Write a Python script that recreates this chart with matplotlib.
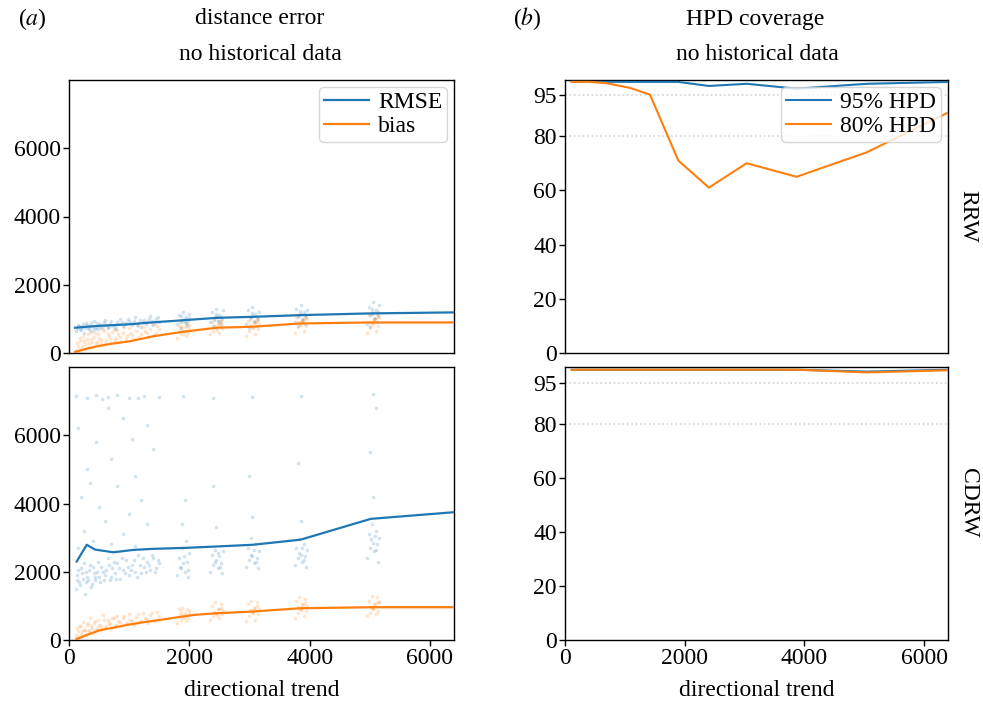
import matplotlib
matplotlib.use("Agg")
import matplotlib.pyplot as plt

plt.rcParams['font.family'] = ['Liberation Serif', 'DejaVu Serif']
plt.rcParams['mathtext.fontset'] = 'stix'

BLUE = '#1f77b4'
ORANGE = '#ff7f0e'

# ---------------- line data ----------------
rrw_line_x = [100, 300, 450, 700, 1000, 1400, 1900, 2450, 3050, 3850, 5000, 6400]
rrw_rmse = [740, 770, 790, 815, 840, 900, 960, 1030, 1060, 1110, 1160, 1190]
rrw_bias = [30, 130, 190, 270, 340, 490, 623, 740, 770, 866, 895, 895]

cdrw_rmse_x = [128, 295, 433, 737, 1067, 1383, 1933, 2450, 3050, 3850, 5017, 6400]
cdrw_rmse = [2300, 2790, 2650, 2570, 2640, 2670, 2700, 2740, 2790, 2940, 3550, 3745]
cdrw_bias_x = [128, 300, 517, 737, 961, 1200, 1517, 2072, 2450, 3050, 3850, 5017, 6400]
cdrw_bias = [30, 150, 290, 360, 440, 510, 590, 735, 784, 833, 931, 960, 960]

hpd_x = [112, 418, 697, 1086, 1420, 1893, 2405, 3035, 3870, 5040, 6430]
rrw_hpd95 = [100, 100, 100, 100, 100, 100, 98.5, 99.3, 97.5, 99.3, 100]
rrw_hpd80 = [100, 100, 99.5, 97.8, 95.3, 71, 61, 70, 65, 74, 89]
cdrw_hpd95 = [100, 100, 100, 100, 100, 100, 100, 100, 100, 99.3, 100]
cdrw_hpd80 = [100, 100, 100, 100, 100, 100, 100, 100, 100, 99.0, 99.8]

# ---------------- scatter data (individual replicates) ----------------
rrw_rmse_pts = [
    (110,650),(150,820),(180,700),(220,760),(250,590),(280,880),(320,720),(350,800),(380,650),(420,930),
    (450,760),(480,700),(520,850),(560,780),(600,980),(640,720),(680,860),(720,800),(760,690),(800,900),
    (850,1000),(900,780),(950,880),(1000,950),(1050,820),(1100,1050),(1150,870),(1200,760),(1250,960),(1300,900),
    (1350,1080),(1400,830),(1450,990),(1500,920),
    (125,720),(165,780),(205,680),(240,850),(270,740),(300,820),(335,690),(365,870),(400,770),(435,710),
    (465,880),(500,800),(535,730),(575,900),(615,820),(655,760),(700,940),(740,830),(780,770),(825,860),
    (875,920),(925,840),(975,1000),(1025,880),(1075,930),(1125,820),(1175,980),(1225,900),(1275,850),(1325,1000),
    (1375,940),(1425,880),(1475,1050),
    (1800,850),(1830,1100),(1860,720),(1880,980),(1900,1200),(1920,900),(1940,1050),(1960,800),(1980,950),(2000,1150),
    (1850,920),(1910,1000),(1870,1080),(1950,880),(1990,1020),
    (2350,900),(2380,1200),(2400,780),(2430,1050),(2450,1300),(2470,950),(2500,1100),(2520,850),(2540,1000),(2560,1250),
    (2410,980),(2460,1050),(2490,930),(2440,1150),(2530,1060),
    (2950,850),(2980,1250),(3000,720),(3030,1050),(3050,1350),(3070,950),(3100,1150),(3120,800),(3140,1000),(3160,1200),
    (3010,1000),(3060,1080),(3090,920),(3040,1180),(3130,1050),
    (3750,900),(3780,1300),(3800,800),(3830,1100),(3850,1400),(3870,1000),(3900,1200),(3920,850),(3940,1050),(3960,1250),
    (3810,1050),(3860,1130),(3890,980),(3840,1230),(3930,1100),
    (4950,850),(4980,1350),(5000,750),(5030,1150),(5050,1500),(5070,1000),(5100,1250),(5120,900),(5140,1100),(5160,1400),
    (5010,1100),(5060,1180),(5090,1030),(5040,1300),(5130,1200),
]
rrw_bias_pts = [
    (110,100),(130,300),(160,50),(190,450),(220,200),(250,350),(280,120),(310,550),(340,280),(370,400),
    (400,180),(430,600),(470,320),(500,450),(540,250),(580,650),(620,380),(660,500),(700,300),(740,700),
    (780,450),(820,550),(870,350),(920,750),(970,500),(1020,600),(1080,420),(1140,800),(1200,550),(1260,650),
    (1320,480),(1380,850),(1440,600),(1500,700),
    (120,30),(145,200),(175,350),(205,120),(235,500),(265,250),(295,400),(325,180),(355,620),(390,330),
    (420,480),(450,260),(490,550),(525,380),(560,700),(600,300),(640,560),(680,420),(720,620),(760,380),
    (800,680),(845,480),(895,600),(945,420),(995,720),(1050,520),(1110,650),(1170,480),(1230,750),(1290,580),
    (1350,700),(1410,520),(1470,800),
    (1800,450),(1830,800),(1860,550),(1880,900),(1900,650),(1920,750),(1940,500),(1960,850),(1980,600),(2000,700),
    (1850,680),(1910,580),(1870,760),(1950,640),(1990,820),
    (2350,550),(2380,900),(2400,650),(2430,1000),(2450,750),(2470,850),(2500,600),(2520,950),(2540,700),(2560,800),
    (2410,780),(2460,680),(2490,860),(2440,720),(2530,900),
    (2950,500),(2980,950),(3000,650),(3030,1050),(3050,800),(3070,900),(3100,550),(3120,1000),(3140,700),(3160,850),
    (3010,820),(3060,720),(3090,880),(3040,760),(3130,930),
    (3750,600),(3780,1050),(3800,750),(3830,1150),(3850,900),(3870,950),(3900,650),(3920,1100),(3940,800),(3960,1000),
    (3810,900),(3860,820),(3890,980),(3840,860),(3930,1020),
    (4950,600),(4980,1100),(5000,750),(5030,1200),(5050,900),(5070,1000),(5100,650),(5120,1150),(5140,800),(5160,1050),
    (5010,920),(5060,850),(5090,1000),(5040,880),(5130,1050),
]
cdrw_rmse_pts = [
    (110,1500),(140,1900),(170,1700),(200,2100),(230,1800),(260,1350),(290,2000),(320,1750),(350,2200),(380,1650),
    (410,1950),(440,1850),(480,2300),(520,1700),(560,2000),(600,1900),(640,2400),(680,1750),(720,2100),(760,1950),
    (800,2250),(850,1800),(900,2050),(950,2350),(1000,1900),(1050,2200),(1100,2000),(1150,2500),(1200,1950),(1250,2150),
    (1300,2300),(1350,2050),(1400,2400),(1450,2100),(1500,2250),
    (125,1750),(155,2050),(185,1600),(215,1950),(245,2250),(275,1700),(305,1850),(335,2050),(365,1550),(395,2150),
    (425,1750),(460,2000),(500,1850),(540,2150),(580,1750),(620,2050),(660,2200),(700,1850),(740,2300),(780,1800),
    (825,2100),(875,2400),(925,1950),(975,2150),(1025,2050),(1075,2350),(1125,1850),(1175,2200),(1225,2400),(1275,2000),
    (1325,2200),(1375,2500),(1425,2000),(1475,2350),
    (150,2700),(250,3200),(400,2900),(600,3500),(700,2800),(900,3100),(1100,2750),(1300,3400),(200,4200),(500,3900),
    (800,4500),(1000,3700),(1200,4100),(300,5000),(700,5300),(1100,4800),(1400,5600),(150,6200),(450,5800),(900,6500),
    (1300,6300),(350,4600),(650,6800),(1050,5900),
    (120,7150),(300,7100),(450,7180),(650,7120),(800,7170),(1000,7100),(1250,7150),(1500,7130),(1900,7150),(2400,7100),
    (3050,7120),(3850,7160),(5050,7200),(550,7050),(1150,7080),
    (1800,1900),(1830,2400),(1860,2100),(1880,2700),(1900,2250),(1920,2000),(1940,2900),(1960,2300),(1980,1850),(2000,2550),
    (1880,3400),(1920,4100),(1850,2150),(1910,2450),(1970,2050),
    (2350,2000),(2380,2500),(2400,2200),(2430,2650),(2450,2350),(2470,2100),(2500,2450),(2520,2250),(2540,1950),(2560,2600),
    (2450,3300),(2400,4500),(2420,2300),(2480,2550),(2510,2150),
    (2950,2150),(2980,2700),(3000,2350),(3030,3000),(3050,2450),(3070,2250),(3100,2800),(3120,2400),(3140,2100),(3160,2600),
    (3050,3600),(3000,4800),(3020,2500),(3080,2650),(3110,2300),
    (3750,2200),(3780,2700),(3800,2400),(3830,2950),(3850,2500),(3870,2300),(3900,2800),(3920,2450),(3940,2150),(3960,2650),
    (3850,3500),(3800,5200),(3820,2550),(3880,2700),(3910,2350),
    (4950,2400),(4980,3100),(5000,2700),(5030,3400),(5050,2850),(5070,2600),(5100,3200),(5120,2800),(5140,2300),(5160,3000),
    (5050,4200),(5000,5500),(5100,6800),(5020,2950),(5080,3050),(5110,2650),
]
cdrw_bias_pts = [
    (110,150),(130,350),(160,80),(190,400),(220,250),(250,300),(280,150),(310,500),(340,300),(370,420),
    (400,200),(430,550),(470,350),(500,450),(540,280),(580,600),(620,400),(660,500),(700,350),(740,650),
    (780,450),(820,550),(870,400),(920,700),(970,500),(1020,600),(1080,450),(1140,750),(1200,550),(1260,650),
    (1320,500),(1380,800),(1440,600),(1500,700),
    (120,60),(145,250),(175,400),(205,170),(235,520),(265,280),(295,430),(325,220),(355,640),(390,360),
    (420,500),(450,300),(490,580),(525,420),(560,720),(600,350),(640,600),(680,460),(720,650),(760,420),
    (800,700),(845,520),(895,640),(945,460),(995,750),(1050,560),(1110,680),(1170,520),(1230,780),(1290,620),
    (1350,730),(1410,560),(1470,830),
    (1800,500),(1830,900),(1860,600),(1880,950),(1900,700),(1920,800),(1940,550),(1960,900),(1980,650),(2000,750),
    (1850,720),(1910,640),(1870,820),(1950,690),(1990,860),
    (2350,600),(2380,1000),(2400,700),(2430,1100),(2450,800),(2470,900),(2500,650),(2520,1050),(2540,750),(2560,850),
    (2410,820),(2460,740),(2490,900),(2440,780),(2530,950),
    (2950,550),(2980,1050),(3000,700),(3030,1150),(3050,850),(3070,950),(3100,600),(3120,1100),(3140,750),(3160,900),
    (3010,870),(3060,780),(3090,940),(3040,820),(3130,990),
    (3750,650),(3780,1150),(3800,800),(3830,1250),(3850,950),(3870,1050),(3900,700),(3920,1200),(3940,850),(3960,1000),
    (3810,960),(3860,880),(3890,1040),(3840,920),(3930,1090),
    (4950,700),(4980,1150),(5000,800),(5030,1300),(5050,950),(5070,1050),(5100,750),(5120,1250),(5140,850),(5160,1100),
    (5010,980),(5060,900),(5090,1060),(5040,940),(5130,1110),
]

x_ticks = [0, 2000, 4000, 6000]
err_ticks = [0, 2000, 4000, 6000]
cov_ticks = [0, 20, 40, 60, 80, 95]
row_labels = ['RRW', 'CDRW']

W, H = 983, 706
fig = plt.figure(figsize=(W / 100, H / 100), dpi=100)

def ax_at(x0, y0, x1, y1):
    return fig.add_axes([x0 / W, 1 - y1 / H, (x1 - x0) / W, (y1 - y0) / H])

axA1 = ax_at(69, 80, 454, 353)
axA2 = ax_at(69, 367, 454, 640)
axB1 = ax_at(565, 80, 948, 353)
axB2 = ax_at(565, 367, 948, 640)

FS = 17

def scatter(ax, pts, color):
    xs = [p[0] for p in pts]
    ys = [p[1] for p in pts]
    ax.scatter(xs, ys, s=7, color=color, alpha=0.2, linewidths=0, zorder=1)

scatter(axA1, rrw_rmse_pts, BLUE)
scatter(axA1, rrw_bias_pts, ORANGE)
axA1.plot(rrw_line_x, rrw_rmse, color=BLUE, lw=1.6, label='RMSE', zorder=3)
axA1.plot(rrw_line_x, rrw_bias, color=ORANGE, lw=1.6, label='bias', zorder=3)

scatter(axA2, cdrw_rmse_pts, BLUE)
scatter(axA2, cdrw_bias_pts, ORANGE)
axA2.plot(cdrw_rmse_x, cdrw_rmse, color=BLUE, lw=1.6, zorder=3)
axA2.plot(cdrw_bias_x, cdrw_bias, color=ORANGE, lw=1.6, zorder=3)

for ax in (axA1, axA2):
    ax.set_xlim(0, 6400)
    ax.set_ylim(0, 8000)
    ax.set_yticks(err_ticks)

for ax, h95, h80 in ((axB1, rrw_hpd95, rrw_hpd80), (axB2, cdrw_hpd95, cdrw_hpd80)):
    ax.axhline(95, color='lightgray', ls=':', lw=1.2, zorder=0)
    ax.axhline(80, color='lightgray', ls=':', lw=1.2, zorder=0)
    ax.plot(hpd_x, h95, color=BLUE, lw=1.5, label='95% HPD', zorder=3)
    ax.plot(hpd_x, h80, color=ORANGE, lw=1.5, label='80% HPD', zorder=3)
    ax.set_xlim(0, 6400)
    ax.set_yticks(cov_ticks)
axB1.set_ylim(0, 100.7)
axB2.set_ylim(0, 101)

for ax in (axA1, axA2, axB1, axB2):
    ax.tick_params(labelsize=FS, direction='out', length=4, width=1, pad=2)
    for s in ax.spines.values():
        s.set_linewidth(1.0)
        s.set_color('black')
    ax.set_xticks(x_ticks)

for ax in (axA1, axB1):
    ax.tick_params(axis='x', bottom=False, labelbottom=False)

axA1.legend(loc='upper right', fontsize=FS, handlelength=1.9, borderpad=0.2,
            labelspacing=0.1, handletextpad=0.4, borderaxespad=0.3)
axB1.legend(loc='upper right', fontsize=FS, handlelength=1.9, borderpad=0.2,
            labelspacing=0.1, handletextpad=0.4, borderaxespad=0.3)

def ftext(px, py, s, **kw):
    fig.text(px / W, 1 - py / H, s, fontsize=FS, ha='center', va='center', **kw)

ftext(32, 19, '($a$)')
ftext(260, 19, 'distance error')
ftext(260, 55, 'no historical data')
ftext(527, 19, '($b$)')
ftext(755, 19, 'HPD coverage')
ftext(757, 55, 'no historical data')
ftext(262, 691, 'directional trend')
ftext(757, 691, 'directional trend')
ftext(968, 216, row_labels[0], rotation=-90)
ftext(968, 503, row_labels[1], rotation=-90)

fig.savefig('out.png', dpi=100)
